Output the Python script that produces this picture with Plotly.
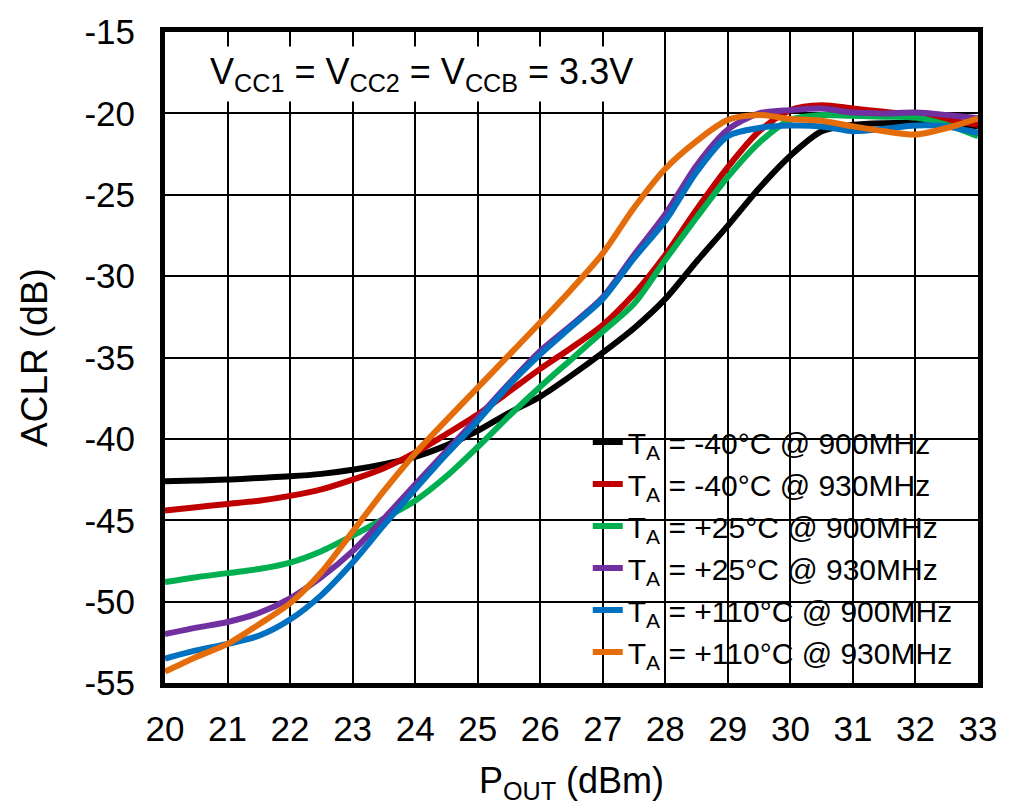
import plotly.graph_objects as go

pout = [20, 20.5, 21, 21.5, 22, 22.5, 23, 23.5, 24, 24.5, 25, 25.5, 26, 26.5,
        27, 27.5, 28, 28.5, 29, 29.5, 30, 30.5, 31, 31.5, 32, 32.5, 33]

aclr_m40_900 = [-42.6, -42.55, -42.5, -42.4, -42.3, -42.15, -41.9, -41.55, -41.1, -40.4,
                -39.5, -38.4, -37.4, -36.1, -34.7, -33.2, -31.4, -29.1, -26.9, -24.6,
                -22.6, -21.1, -20.7, -20.6, -20.6, -20.6, -20.8]
aclr_m40_930 = [-44.4, -44.2, -44.0, -43.8, -43.5, -43.1, -42.5, -41.8, -40.85, -39.7,
                -38.5, -37.1, -35.7, -34.4, -33.0, -31.1, -28.7, -25.9, -23.3, -21.1,
                -19.8, -19.5, -19.7, -19.9, -20.1, -20.4, -20.7]
aclr_p25_900 = [-48.8, -48.5, -48.25, -48.0, -47.6, -46.9, -45.95, -44.9, -43.8, -42.3,
                -40.5, -38.6, -36.8, -35.1, -33.4, -31.7, -29.0, -26.4, -23.9, -21.8,
                -20.4, -20.1, -20.15, -20.2, -20.25, -20.7, -21.4]
aclr_p25_930 = [-52.0, -51.6, -51.25, -50.7, -49.8, -48.5, -46.9, -44.9, -42.8, -40.75,
                -38.7, -36.6, -34.6, -33.0, -31.3, -28.7, -26.2, -23.2, -21.0, -20.0,
                -19.8, -19.7, -19.95, -20.0, -19.95, -20.1, -20.3]
aclr_p110_900 = [-53.5, -53.0, -52.6, -52.1, -51.1, -49.6, -47.6, -45.3, -43.1, -40.95,
                 -38.9, -36.7, -34.8, -33.1, -31.4, -28.9, -26.6, -23.6, -21.4, -20.9,
                 -20.75, -20.8, -21.1, -20.95, -20.75, -20.8, -21.2]
aclr_p110_930 = [-54.3, -53.4, -52.6, -51.4, -50.1, -48.2, -45.7, -43.2, -40.9, -38.85,
                 -36.85, -34.85, -32.85, -30.8, -28.6, -25.8, -23.4, -21.7, -20.4, -20.1,
                 -20.35, -20.45, -20.8, -21.1, -21.3, -20.9, -20.3]

series_names = [
    "T<sub>A</sub> = -40°C @ 900MHz",
    "T<sub>A</sub> = -40°C @ 930MHz",
    "T<sub>A</sub> = +25°C @ 900MHz",
    "T<sub>A</sub> = +25°C @ 930MHz",
    "T<sub>A</sub> = +110°C @ 900MHz",
    "T<sub>A</sub> = +110°C @ 930MHz",
]
series_values = [aclr_m40_900, aclr_m40_930, aclr_p25_900, aclr_p25_930,
                 aclr_p110_900, aclr_p110_930]
series_colors = ["#000000", "#C00000", "#00B050", "#7030A0", "#0070C0", "#E46C0A"]

x_ticks = list(range(20, 34))
y_ticks = list(range(-55, -14, 5))

FONT = "Liberation Sans, Arial, sans-serif"

fig = go.Figure()
for i, (name, vals, col) in enumerate(zip(series_names, series_values, series_colors)):
    fig.add_trace(go.Scatter(
        x=pout, y=vals, mode="lines", name=name,
        line=dict(color=col, width=6, shape="spline", smoothing=0.8),
        legendgroup=f"g{i}",
    ))

# white box behind legend (covers grid lines)
fig.add_shape(type="rect", xref="paper", yref="paper",
              x0=0.4637, x1=0.994, y0=0.0, y1=0.424,
              fillcolor="white", line=dict(width=0), layer="between")

fig.add_annotation(
    xref="paper", yref="paper", x=0.315, y=0.935,
    text="V<sub>CC1</sub> = V<sub>CC2</sub> = V<sub>CCB</sub> = 3.3V",
    showarrow=False, bgcolor="white", borderpad=4,
    font=dict(family=FONT, size=36, color="black"),
    xanchor="center", yanchor="middle",
)

fig.update_layout(
    width=1013, height=807,
    margin=dict(l=165, r=35, t=29, b=124),
    paper_bgcolor="white", plot_bgcolor="white",
    font=dict(family=FONT, color="black"),
    showlegend=True,
    legend=dict(
        x=0.52, y=0.41, xanchor="left", yanchor="top",
        bgcolor="rgba(0,0,0,0)", borderwidth=0,
        font=dict(family=FONT, size=30, color="black"),
        tracegroupgap=0, itemwidth=30,
    ),
)

fig.update_xaxes(
    range=[20, 33], tickvals=x_ticks, ticktext=[str(v) for v in x_ticks],
    showgrid=True, gridcolor="black", gridwidth=1.5,
    showline=True, linecolor="black", linewidth=5, mirror=True,
    ticks="outside", ticklen=11, tickcolor="rgba(0,0,0,0)",
    tickfont=dict(family=FONT, size=35, color="black"),
    title=dict(text="P<sub>OUT</sub> (dBm)", font=dict(family=FONT, size=36, color="black"), standoff=22),
    zeroline=False,
)
fig.update_yaxes(
    range=[-55, -15], tickvals=y_ticks, ticktext=[str(v) for v in y_ticks],
    showgrid=True, gridcolor="black", gridwidth=1.5,
    showline=True, linecolor="black", linewidth=5, mirror=True,
    ticks="outside", ticklen=18, tickcolor="rgba(0,0,0,0)",
    tickfont=dict(family=FONT, size=35, color="black"),
    title=dict(text="ACLR (dB)", font=dict(family=FONT, size=37, color="black"), standoff=27),
    zeroline=False,
)

fig.write_html(
    "out.html",
    config={"displayModeBar": False},
    post_script="document.body.style.margin='0';document.body.style.overflow='hidden';",
)
